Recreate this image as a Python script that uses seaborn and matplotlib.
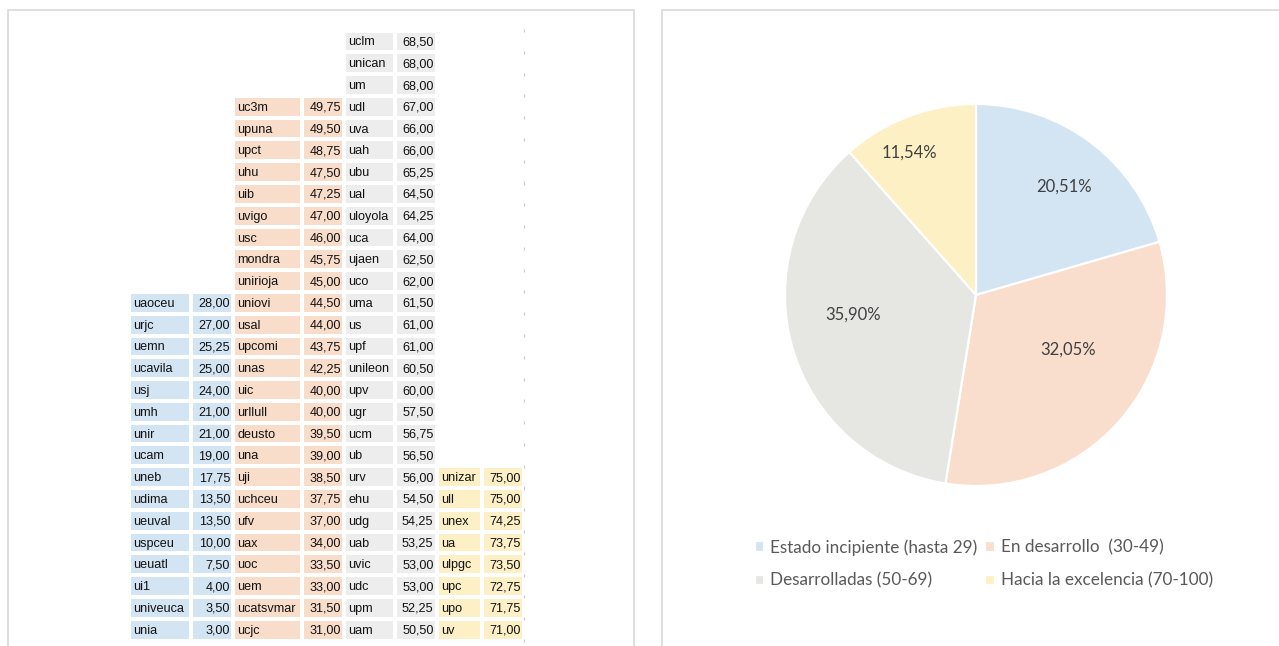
import numpy as np
import pandas as pd
import matplotlib
matplotlib.use("Agg")
import matplotlib.pyplot as plt
from matplotlib.colors import ListedColormap
from matplotlib.patches import Rectangle
import seaborn as sns

# ---- data ----
incipiente_names = ["uaoceu", "urjc", "uemn", "ucavila", "usj", "umh", "unir", "ucam",
                    "uneb", "udima", "ueuval", "uspceu", "ueuatl", "ui1", "univeuca", "unia"]
incipiente_scores = [28.00, 27.00, 25.25, 25.00, 24.00, 21.00, 21.00, 19.00,
                     17.75, 13.50, 13.50, 10.00, 7.50, 4.00, 3.50, 3.00]

desarrollo_names = ["uc3m", "upuna", "upct", "uhu", "uib", "uvigo", "usc", "mondra", "unirioja",
                    "uniovi", "usal", "upcomi", "unas", "uic", "urllull", "deusto", "una", "uji",
                    "uchceu", "ufv", "uax", "uoc", "uem", "ucatsvmar", "ucjc"]
desarrollo_scores = [49.75, 49.50, 48.75, 47.50, 47.25, 47.00, 46.00, 45.75, 45.00,
                     44.50, 44.00, 43.75, 42.25, 40.00, 40.00, 39.50, 39.00, 38.50,
                     37.75, 37.00, 34.00, 33.50, 33.00, 31.50, 31.00]

desarrolladas_names = ["uclm", "unican", "um", "udl", "uva", "uah", "ubu", "ual", "uloyola", "uca",
                       "ujaen", "uco", "uma", "us", "upf", "unileon", "upv", "ugr", "ucm", "ub",
                       "urv", "ehu", "udg", "uab", "uvic", "udc", "upm", "uam"]
desarrolladas_scores = [68.50, 68.00, 68.00, 67.00, 66.00, 66.00, 65.25, 64.50, 64.25, 64.00,
                        62.50, 62.00, 61.50, 61.00, 61.00, 60.50, 60.00, 57.50, 56.75, 56.50,
                        56.00, 54.50, 54.25, 53.25, 53.00, 53.00, 52.25, 50.50]

excelencia_names = ["unizar", "ull", "unex", "ua", "ulpgc", "upc", "upo", "uv"]
excelencia_scores = [75.00, 75.00, 74.25, 73.75, 73.50, 72.75, 71.75, 71.00]

pie_labels = ["Estado incipiente (hasta 29)", "En desarrollo  (30-49)",
              "Desarrolladas (50-69)", "Hacia la excelencia (70-100)"]
pie_shares = [20.51, 32.05, 35.90, 11.54]

# ---- styling / layout ----
table_colors = ["#D3E5F3", "#F9DDCB", "#EDEDED", "#FDF0C6"]
pie_colors = ["#D3E5F3", "#F9DECE", "#E6E6E3", "#FEF0C5"]
label_polar = [(51, 0.73), (-31, 0.56), (189, 0.65), (115, 0.82)]  # excel label spots

sns.set_theme(style="white")
plt.rcParams["font.family"] = ["Liberation Sans", "DejaVu Sans"]

W, H = 1279, 646
fig = plt.figure(figsize=(W / 100, H / 100), dpi=100)
fig.patch.set_facecolor("white")


def px_axes(x0, y0, x1, y1):
    return fig.add_axes([x0 / W, 1 - y1 / H, (x1 - x0) / W, (y1 - y0) / H])


def fmt(v):
    return f"{v:.2f}".replace(".", ",")


# panel frames
fig.add_artist(Rectangle((7.5 / W, -0.05), (634 - 7.5) / W, 1.05 - 10 / H,
                         transform=fig.transFigure, fill=False, ec="#D9D9D9", lw=1.2))
fig.add_artist(Rectangle((662 / W, -0.05), 0.5, 1.05 - 10 / H,
                         transform=fig.transFigure, fill=False, ec="#D9D9D9", lw=1.2))

# ---- left: the score table ----
n_rows = len(desarrolladas_names)
col_edges = [129, 191, 233, 302, 344, 395, 436.5, 482, 524]
top, bottom = 30.5, 640.5

groups = [(incipiente_names, incipiente_scores),
          (desarrollo_names, desarrollo_scores),
          (desarrolladas_names, desarrolladas_scores),
          (excelencia_names, excelencia_scores)]

for g, (names, scores) in enumerate(groups):
    pad = n_rows - len(scores)
    df = pd.DataFrame({"v": [np.nan] * pad + list(scores)})
    cmap = ListedColormap([table_colors[g]])
    for k in range(2):
        x0, x1 = col_edges[2 * g + k], col_edges[2 * g + k + 1]
        ax = px_axes(x0, top, x1, bottom)
        sns.heatmap(df, ax=ax, cmap=cmap, cbar=False, linewidths=1.5, linecolor="white",
                    xticklabels=False, yticklabels=False)
        ax.set_axis_off()
        width = x1 - x0
        for i, (name, score) in enumerate(zip(names, scores)):
            if k == 0:
                ax.text(4.5 / width, pad + i + 0.55, name, ha="left", va="center",
                        fontsize=9.1, color="#111111")
            else:
                ax.text(1 - 3 / width, pad + i + 0.55, fmt(score), ha="right", va="center",
                        fontsize=9.1, color="#111111")
        if g == 3 and k == 1:
            rows = np.arange(n_rows + 1)
            ax.vlines(np.full(len(rows), 1.0), rows - 0.07, rows + 0.07,
                      color="#C8C8C8", lw=0.8, clip_on=False)

# ---- right: the pie ----
ax_pie = px_axes(785, 104, 1167, 486)
wedges, _ = ax_pie.pie(pie_shares, colors=pie_colors, startangle=90, counterclock=False,
                       wedgeprops=dict(edgecolor="white", linewidth=1.6))
ax_pie.set_xlim(-1, 1)
ax_pie.set_ylim(-1, 1)
for share, (ang, r) in zip(pie_shares, label_polar):
    a = np.deg2rad(ang)
    ax_pie.text(r * np.cos(a), r * np.sin(a), fmt(share) + "%", ha="center", va="center",
                fontsize=12, color="#404040", family=["Lato", "DejaVu Sans"])

order = [0, 2, 1, 3]
fig.legend([wedges[i] for i in order], [pie_labels[i] for i in order], ncol=2,
           loc="upper left", bbox_to_anchor=(755 / W, 1 - 539 / H), frameon=False,
           borderpad=0, borderaxespad=0, handlelength=0.55, handleheight=0.55,
           handletextpad=0.35, columnspacing=0.45, labelspacing=1.0,
           prop={"family": ["Lato", "DejaVu Sans"], "size": 12.3}, labelcolor="#595959")

fig.savefig("out.png", dpi=100, facecolor="white")
